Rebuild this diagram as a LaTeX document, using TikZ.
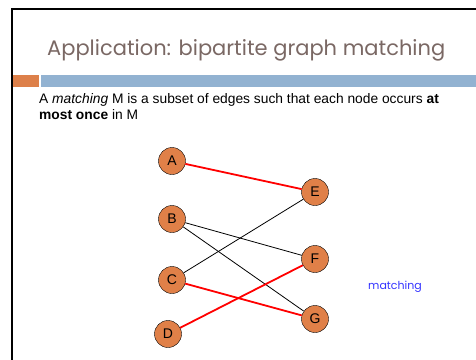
\documentclass[tikz,border=0pt]{standalone}
\usepackage{fontspec}
\setmainfont{Liberation Sans}
\newfontfamily\titlefont{Poppins}
\usepackage{tikz}
\usetikzlibrary{positioning}
\definecolor{nodeorange}{RGB}{224,128,72}
\definecolor{barorange}{RGB}{221,128,74}
\definecolor{barblue}{RGB}{146,178,209}
\definecolor{titlegray}{RGB}{122,104,100}
\definecolor{notebl}{RGB}{51,51,255}
\tikzset{
  vertex/.style={circle, draw=black, fill=nodeorange, minimum size=27pt, inner sep=0pt, font=\fontsize{14}{14}\selectfont},
  plainedge/.style={draw=black, line width=0.8pt},
  matchedge/.style={draw=red, line width=1.8pt},
}

\begin{document}
\begin{tikzpicture}[x=1pt, y=-1pt]
\useasboundingbox (0,0) rectangle (476,359);
% Slide frame and title bars
\draw[line width=2pt] (12,360) -- (12,8.5) -- (477,8.5);
\fill[barorange] (13,75) rectangle (39,87);
\fill[barblue] (41,75) rectangle (477,87);
\node[anchor=base west, text=titlegray, font=\titlefont\fontsize{21}{24}\selectfont, inner sep=0pt] (title) at (47,55)
  {Application: bipartite graph matching};
% Definition text
\node[anchor=north west, align=left, inner sep=0pt, font=\fontsize{13.8}{16.5}\selectfont] (defn) at (39,93)
  {A \textit{matching} M is a subset of edges such that each node occurs \textbf{at}\\
   \textbf{most once} in M};
% Left side
\node[vertex] (A) at (172,161) {A};
\node[vertex] (B) at (172,219) {B};
\node[vertex] (C) at (172,280) {C};
\node[vertex] (D) at (168,334) {D};
% Right side
\node[vertex] (E) at (315,192) {E};
\node[vertex] (F) at (315,259) {F};
\node[vertex] (G) at (315,319) {G};
% Edges
\draw[plainedge] (B) -- (F);
\draw[plainedge] (B) -- (G);
\draw[plainedge] (C) -- (E);
\draw[matchedge] (A) -- (E);
\draw[matchedge] (C) -- (G);
\draw[matchedge] (D) -- (F);
\node[text=notebl, font=\titlefont\fontsize{11}{12}\selectfont] (note) at (395,287) {matching};
\end{tikzpicture}
\end{document}
